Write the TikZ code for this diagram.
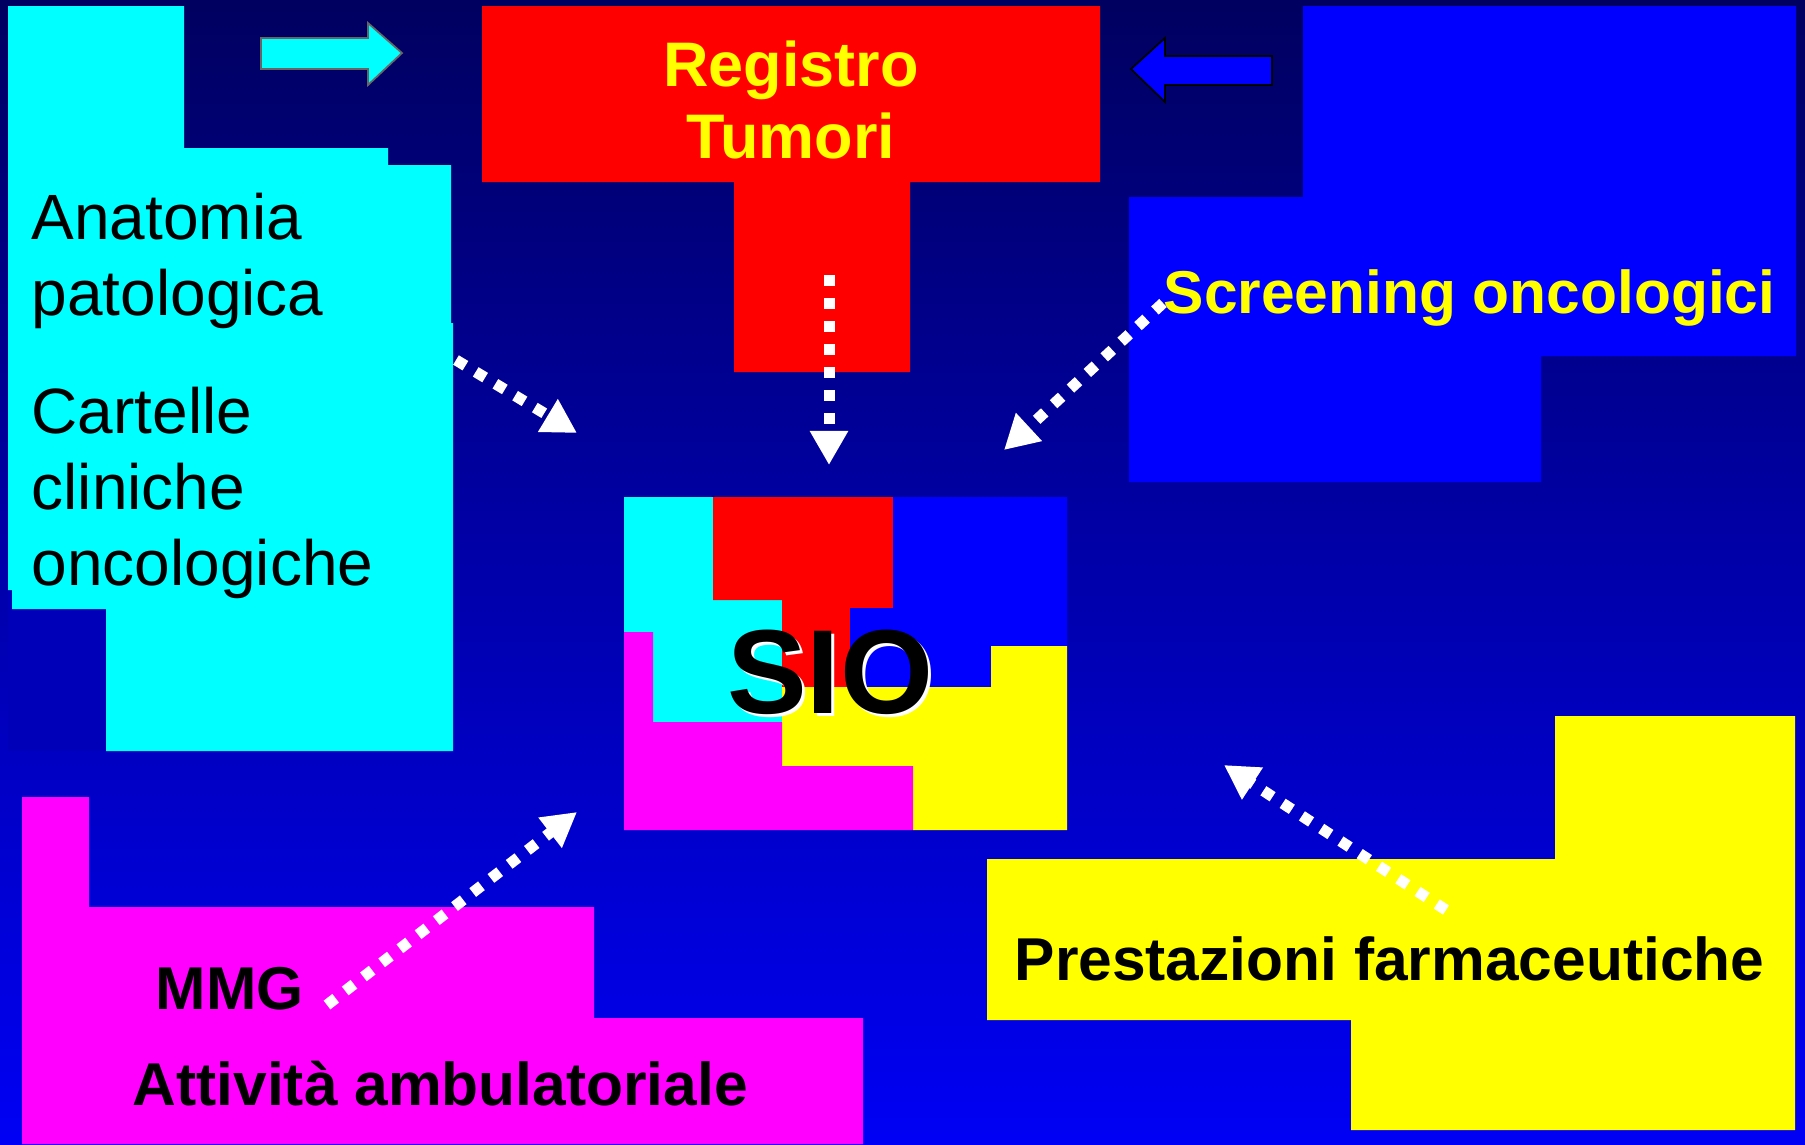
\documentclass[tikz,border=0pt]{standalone}
\usepackage{fontspec}
\setmainfont{Liberation Sans}
\usetikzlibrary{arrows.meta}
\definecolor{bgtop}{RGB}{0,0,96}
\definecolor{bgbottom}{RGB}{0,0,245}
\definecolor{darkpatch}{RGB}{0,0,185}
\definecolor{sioCyan}{RGB}{0,255,255}
\definecolor{sioRed}{RGB}{255,0,0}
\definecolor{sioBlue}{RGB}{0,0,255}
\definecolor{sioYellow}{RGB}{255,255,0}
\definecolor{sioMagenta}{RGB}{255,0,255}

\begin{document}
\begin{tikzpicture}[x=0.01cm,y=-0.01cm,
    feed/.style={white,line width=0.11cm,dash pattern=on 0.11cm off 0.12cm,-{Triangle[length=0.34cm,width=0.36cm]}},
    thinlabel/.style={font=\fontsize{18.2}{21.6}\selectfont,anchor=base west,align=left,inner sep=0pt},
    boldlabel/.style={font=\fontsize{17.2}{20.2}\selectfont\bfseries,anchor=base west,inner sep=0pt},
    blockarrow/.style={draw=black,line width=0.5pt}]
        \shade[top color=bgtop,bottom color=bgbottom] (0,0) rectangle (1805,1144);
        \useasboundingbox (0,0) rectangle (1805,1144);

        \fill[darkpatch] (8,590) rectangle (106,751);
        \fill[sioCyan] (8,6) -- (184,6) -- (184,148) -- (388,148) -- (388,165) -- (451,165) -- (451,323) -- (453,323) -- (453,751) -- (106,751) -- (106,609) -- (12,609) -- (12,590) -- (8,590) -- cycle;
        \fill[sioRed] (482,6) -- (1100,6) -- (1100,182) -- (910,182) -- (910,372) -- (734,372) -- (734,182) -- (482,182) -- cycle;
        \fill[sioBlue] (1303,6) -- (1796,6) -- (1796,356) -- (1541,356) -- (1541,482) -- (1129,482) -- (1129,197) -- (1303,197) -- cycle;
        \fill[sioMagenta] (22,797) -- (89,797) -- (89,907) -- (594,907) -- (594,1018) -- (863,1018) -- (863,1144) -- (22,1144) -- cycle;
        \fill[sioYellow] (1555,716) -- (1795,716) -- (1795,1130) -- (1351,1130) -- (1351,1020) -- (987,1020) -- (987,859) -- (1555,859) -- cycle;

        \filldraw[blockarrow,fill=sioCyan,draw=black!60] (261,38) -- (368,38) -- (368,23) -- (402,53) -- (368,85) -- (368,69) -- (261,69) -- cycle;
        \filldraw[blockarrow,fill=sioBlue] (1272,56) -- (1165,56) -- (1165,38) -- (1131,69) -- (1165,102) -- (1165,85) -- (1272,85) -- cycle;

        \fill[sioCyan] (624,497) -- (713,497) -- (713,600) -- (782,600) -- (782,722) -- (653,722) -- (653,632) -- (624,632) -- cycle;
        \fill[sioRed] (713,497) -- (893,497) -- (893,608) -- (850,608) -- (850,687) -- (782,687) -- (782,600) -- (713,600) -- cycle;
        \fill[sioBlue] (893,497) -- (1067,497) -- (1067,646) -- (991,646) -- (991,687) -- (850,687) -- (850,608) -- (893,608) -- cycle;
        \fill[sioYellow] (991,646) -- (1067,646) -- (1067,830) -- (913,830) -- (913,766) -- (782,766) -- (782,687) -- (991,687) -- cycle;
        \fill[sioMagenta] (624,632) -- (653,632) -- (653,722) -- (782,722) -- (782,766) -- (913,766) -- (913,830) -- (624,830) -- cycle;

        \node[thinlabel] (anatomia) at (31,315) {Anatomia\\patologica};
        \node[thinlabel] (cartelle) at (31,585) {Cartelle\\cliniche\\oncologiche};
        \node[boldlabel,sioYellow,anchor=base,align=center,font=\fontsize{17.9}{20.2}\selectfont\bfseries] (registro) at (791,158) {Registro\\Tumori};
        \node[boldlabel,sioYellow] (screening) at (1163,313) {Screening oncologici};
        \node[boldlabel] (mmg) at (155,1009) {MMG};
        \node[boldlabel] (ambulatoriale) at (132,1105) {Attività ambulatoriale};
        \node[boldlabel] (prestazioni) at (1014,980) {Prestazioni farmaceutiche};
        \node[boldlabel,white,anchor=base,font=\fontsize{34}{40}\selectfont\bfseries] (sio-halo) at (833,716) {SIO};
        \node[boldlabel,anchor=base,font=\fontsize{34}{40}\selectfont\bfseries] (sio) at (830,713) {SIO};

        \coordinate (anat-out) at (456,360);
        \coordinate (anat-in) at (577,433);
        \coordinate (reg-out) at (829,275);
        \coordinate (reg-in) at (829,465);
        \coordinate (scr-out) at (1163,303);
        \coordinate (scr-in) at (1004,450);
        \coordinate (mmg-out) at (327,1005);
        \coordinate (mmg-in) at (577,812);
        \coordinate (pre-out) at (1446,910);
        \coordinate (pre-in) at (1224,765);

        \draw[feed] (anat-out) -- (anat-in);
        \draw[feed] (reg-out) -- (reg-in);
        \draw[feed] (scr-out) -- (scr-in);
        \draw[feed] (mmg-out) -- (mmg-in);
        \draw[feed] (pre-out) -- (pre-in);
\end{tikzpicture}
\end{document}
